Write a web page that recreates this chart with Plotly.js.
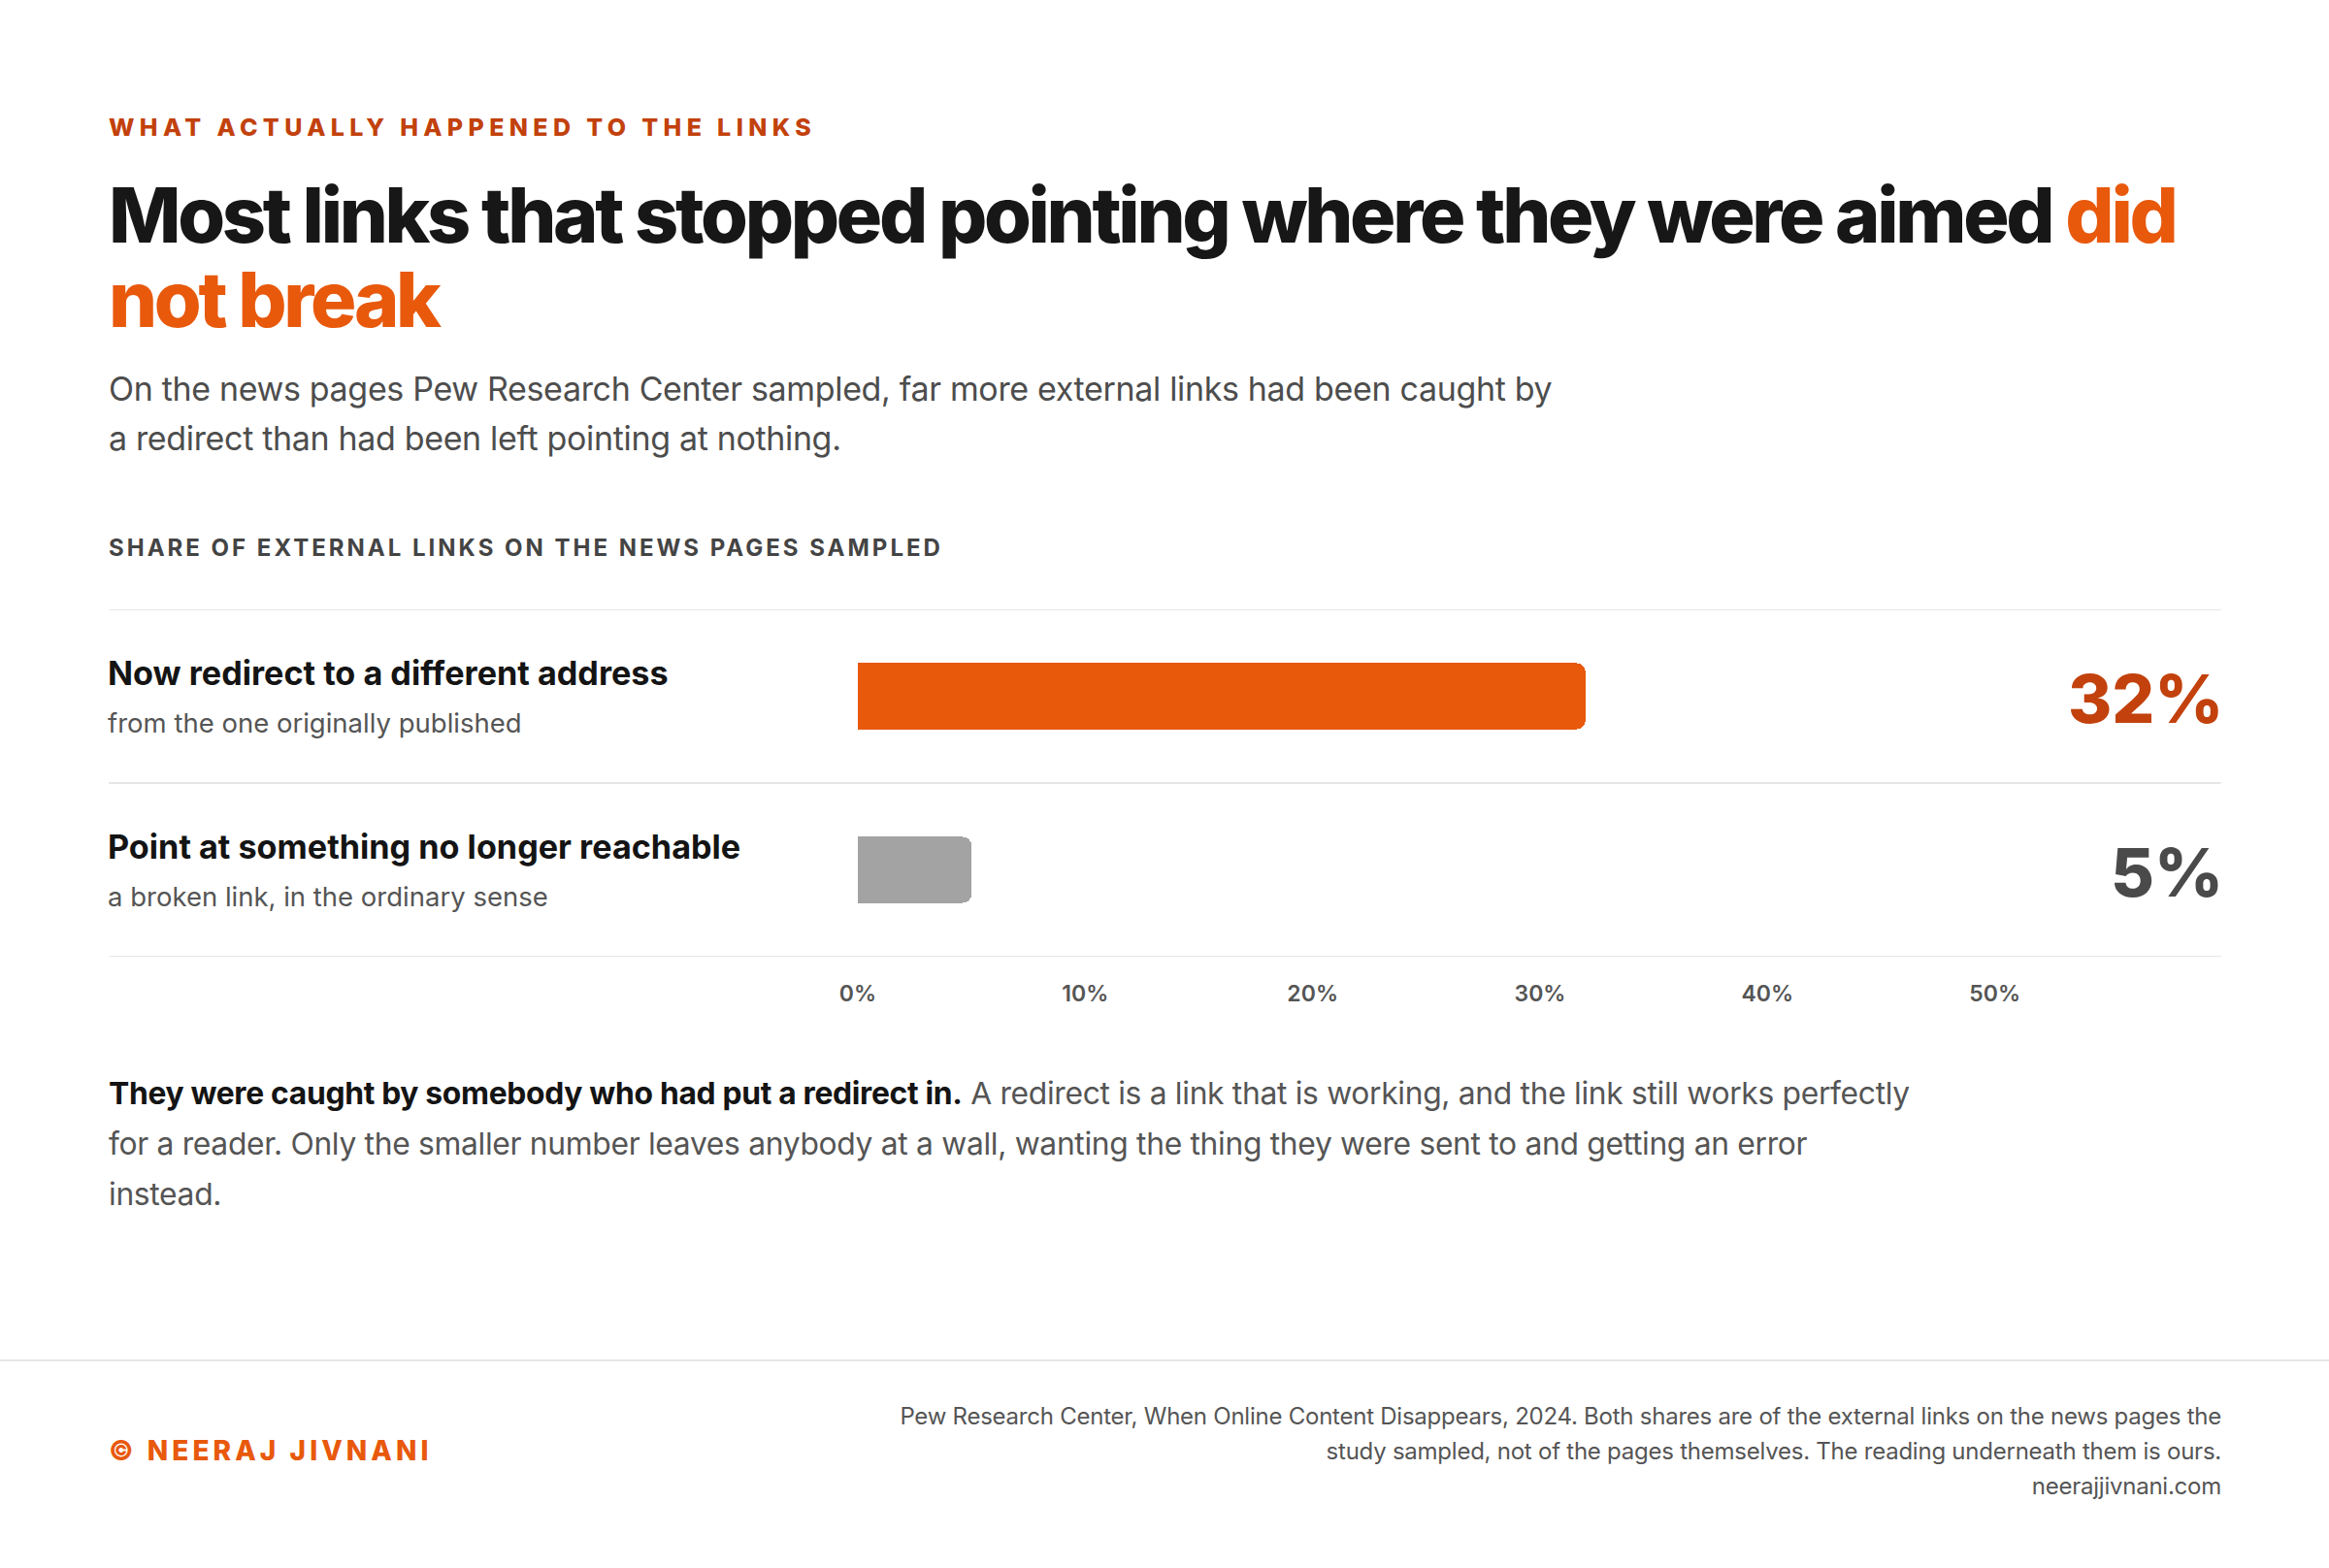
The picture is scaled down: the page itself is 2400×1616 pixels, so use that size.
<!DOCTYPE html>
<html>
<head>
<meta charset="utf-8">
<script src="https://cdn.plot.ly/plotly-3.0.1.min.js"></script>
<style>
  html, body { margin: 0; padding: 0; background: #fff; }
  body { width: 2400px; height: 1616px; position: relative; overflow: hidden; font-family: Inter, "Noto Sans", sans-serif; }
  .abs { position: absolute; left: 112px; }
  #eyebrow { top: 119px; font-size: 25px; line-height: 25px; font-weight: 800; letter-spacing: 0.215em; color: #C2410C; }
  #title { top: 178px; font-size: 79px; line-height: 87px; font-weight: 800; letter-spacing: -0.042em; color: #171717; width: 2250px; }
  #title span { color: #E8590C; }
  #sub { top: 375px; font-size: 34px; line-height: 51px; color: #4d4d4d; letter-spacing: -0.01em; }
  #label { top: 553px; font-size: 24px; line-height: 24px; font-weight: 700; letter-spacing: 0.125em; color: #444; }
  #chart { position: absolute; left: 0; top: 600px; width: 2400px; height: 460px; }
  #note { top: 1101px; font-size: 31.8px; line-height: 52px; color: #555; width: 2000px; letter-spacing: -0.01em; }
  #note b { color: #141414; font-weight: 700; }
  #rule { position: absolute; left: 0; top: 1401px; width: 2400px; height: 2px; background: #e6e6e6; }
  #credit { top: 1481px; font-size: 28px; line-height: 28px; font-weight: 800; letter-spacing: 0.145em; color: #E8590C; }
  #source { position: absolute; right: 111px; top: 1442px; font-size: 24px; line-height: 36px; color: #555; text-align: right; letter-spacing: -0.01em; }
</style>
</head>
<body>
<div id="eyebrow" class="abs">WHAT ACTUALLY HAPPENED TO THE LINKS</div>
<div id="title" class="abs">Most links that stopped pointing where they were aimed <span>did<br>not break</span></div>
<div id="sub" class="abs">On the news pages Pew Research Center sampled, far more external links had been caught by<br>a redirect than had been left pointing at nothing.</div>
<div id="label" class="abs">SHARE OF EXTERNAL LINKS ON THE NEWS PAGES SAMPLED</div>
<div id="chart"></div>
<div id="note" class="abs"><b>They were caught by somebody who had put a redirect in.</b> A redirect is a link that is working, and the link still works perfectly<br>for a reader. Only the smaller number leaves anybody at a wall, wanting the thing they were sent to and getting an error<br>instead.</div>
<div id="rule"></div>
<div id="credit" class="abs">© NEERAJ JIVNANI</div>
<div id="source">Pew Research Center, When Online Content Disappears, 2024. Both shares are of the external links on the news pages the<br>study sampled, not of the pages themselves. The reading underneath them is ours.<br>neerajjivnani.com</div>

<script>
// the two outcomes, top row first
var categories = ['Now redirect to a different address', 'Point at something no longer reachable'];
var notes = ['from the one originally published', 'a broken link, in the ordinary sense'];
var shares = [32, 5];          // percent of external links
var barColors = ['#E8590C', '#A3A3A3'];
var valueColors = ['#C2410C', '#4A4A4A'];
var tickValues = [0, 10, 20, 30, 40, 50];
var tickLabels = ['0%', '10%', '20%', '30%', '40%', '50%'];

var FONT = 'Inter, "Noto Sans", sans-serif';
var labelX = -0.549;   // row text starts at the page margin, left of the bars

var bars = {
  type: 'bar',
  orientation: 'h',
  x: shares,
  y: categories,
  width: 0.38,
  marker: { color: barColors, cornerradius: 9 },
  hoverinfo: 'skip'
};

var annotations = [];
categories.forEach(function (cat, i) {
  annotations.push({
    xref: 'paper', yref: 'y', x: labelX, y: cat, xanchor: 'left', yanchor: 'middle',
    xshift: -3, yshift: 24, showarrow: false, text: cat,
    font: { family: FONT, size: 34.2, weight: 700, color: '#141414' }
  });
  annotations.push({
    xref: 'paper', yref: 'y', x: labelX, y: cat, xanchor: 'left', yanchor: 'middle',
    xshift: -3, yshift: -27, showarrow: false, text: notes[i],
    font: { family: FONT, size: 27.5, color: '#555' }
  });
  annotations.push({
    xref: 'paper', yref: 'y', x: 1, y: cat, xanchor: 'right', yanchor: 'middle',
    xshift: 3, yshift: -2, showarrow: false, text: shares[i] + '%',
    font: { family: FONT, size: 69, weight: 800, color: valueColors[i] }
  });
});

// row dividers from the left margin to the right edge
var shapes = [-0.5, 0.5, 1.5].map(function (yy) {
  return {
    type: 'line', xref: 'paper', yref: 'y', x0: labelX, x1: 0.999, y0: yy, y1: yy,
    line: { color: '#e6e6e6', width: 2 }, layer: 'below'
  };
});

var layout = {
  width: 2400,
  height: 460,
  margin: { l: 884, r: 110, t: 28, b: 74, pad: 0 },
  paper_bgcolor: '#fff',
  plot_bgcolor: '#fff',
  showlegend: false,
  bargap: 0,
  xaxis: {
    range: [0, 60],
    tickvals: tickValues,
    ticktext: tickLabels,
    showgrid: false, zeroline: false, showline: false, ticks: '',
    ticklabelstandoff: 22,
    tickfont: { family: FONT, size: 23, weight: 600, color: '#555' }
  },
  yaxis: {
    type: 'category',
    categoryorder: 'array',
    categoryarray: categories,
    range: [1.5, -0.5],
    showgrid: false, zeroline: false, showline: false, showticklabels: false, ticks: ''
  },
  annotations: annotations,
  shapes: shapes
};

Plotly.newPlot('chart', [bars], layout, { staticPlot: true, displayModeBar: false });
</script>
</body>
</html>
